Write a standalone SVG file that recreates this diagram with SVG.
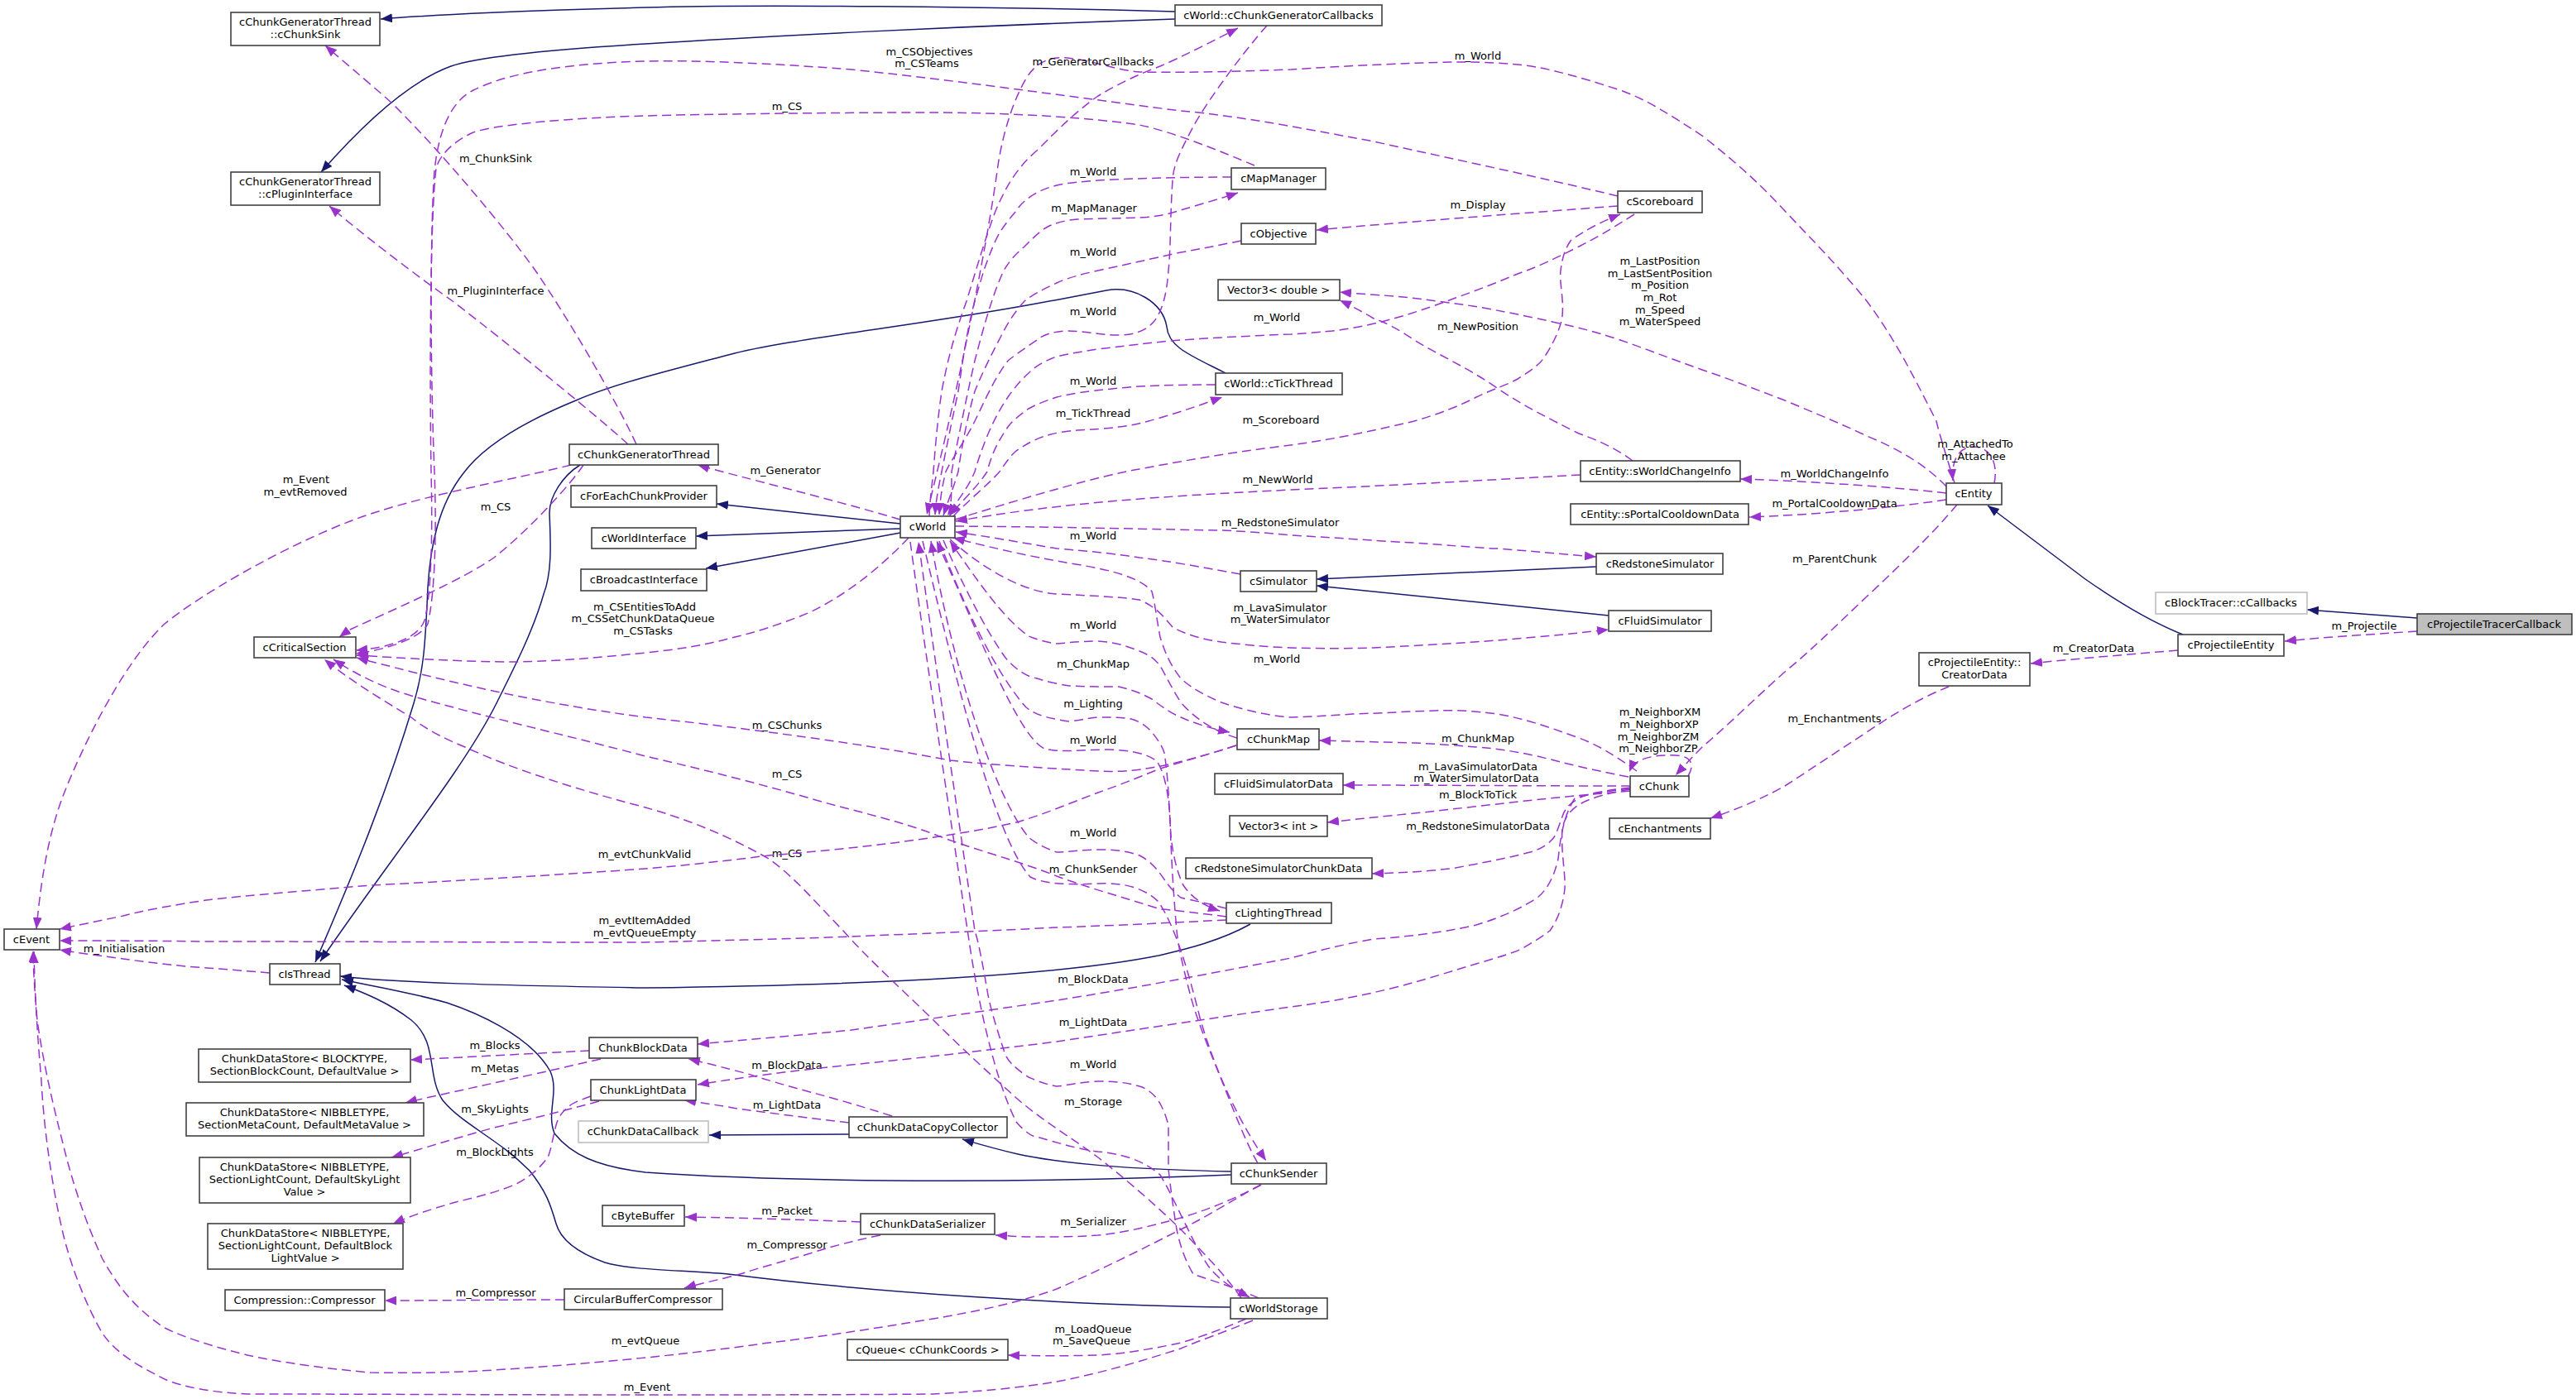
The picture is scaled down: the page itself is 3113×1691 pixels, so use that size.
<svg xmlns="http://www.w3.org/2000/svg" width="3113" height="1691" viewBox="0 0 3113 1691">
<style>
.bg{fill:#fff}
.n rect{fill:#fff;stroke:#404040;stroke-width:1.6}
.n.g rect{stroke:#bfbfbf}
.n.h rect{fill:#bfbfbf}
text{font-family:"DejaVu Sans","Liberation Sans",sans-serif;font-size:13px;fill:#000;text-anchor:middle}
.i{fill:none;stroke:#191970;stroke-width:1.5;marker-end:url(#mb)}
.u{fill:none;stroke:#9a32cd;stroke-width:1.5;stroke-dasharray:11,6;marker-end:url(#mp)}
</style>
<defs>
<marker id="mb" viewBox="0 0 14 11" refX="14" refY="5.5" markerWidth="14" markerHeight="11" markerUnits="userSpaceOnUse" orient="auto"><path d="M0,0L14,5.5L0,11z" fill="#191970" stroke="none"/></marker>
<marker id="mp" viewBox="0 0 14 11" refX="14" refY="5.5" markerWidth="14" markerHeight="11" markerUnits="userSpaceOnUse" orient="auto"><path d="M0,0L14,5.5L0,11z" fill="#9a32cd" stroke="none"/></marker>
</defs>
<rect class="bg" x="0" y="0" width="3113" height="1691"/>
<g id="connectors">
<!-- inheritance -->
<path class="i" d="M1420,14 C1200,8 900,5 780,9 C650,12 520,18 460,23"/>
<path class="i" d="M1420,23 C1150,32 900,45 780,53 C680,59 580,68 545,80 C490,100 430,160 388,208"/>
<path class="i" d="M1481,451 C1440,430 1412,420 1410,395 C1405,365 1370,345 1337,351 C1300,358 1280,362 1252,367 C1100,395 950,410 880,429 C800,450 740,465 696,484 C620,515 580,545 560,572 C530,610 520,660 517,710 C514,780 512,810 500,850 C470,950 430,1050 381,1163"/>
<path class="i" d="M701,562 C680,575 664,600 664,620 C665,650 668,690 657,718 C645,760 625,800 600,850 C560,930 470,1040 387,1162"/>
<path class="i" d="M1511,1117 C1470,1140 1420,1150 1400,1155 C1300,1175 1100,1190 780,1194 C600,1191 480,1188 411,1180"/>
<path class="i" d="M1488,1420 C1300,1428 1000,1432 780,1417 C720,1410 690,1395 670,1370 C660,1345 676,1320 665,1295 C640,1250 570,1222 540,1212 C490,1198 440,1190 413,1184"/>
<path class="i" d="M1487,1580 C1300,1578 1050,1562 880,1540 C820,1535 760,1535 731,1526 C700,1515 678,1500 672,1479 C665,1455 660,1440 640,1415 C600,1375 560,1360 535,1330 C515,1300 530,1260 497,1233 C470,1212 440,1200 416,1191"/>
<path class="i" d="M1088,633 L866,609"/>
<path class="i" d="M1088,639 L841,648"/>
<path class="i" d="M1088,644 L853,687"/>
<path class="i" d="M1929,685 L1591,700"/>
<path class="i" d="M1944,744 L1591,708"/>
<path class="i" d="M2638,767 C2600,752 2560,728 2520,700 C2480,670 2440,640 2402,611"/>
<path class="i" d="M2921,747 L2788,737"/>
<path class="i" d="M1026,1371 L857,1372"/>
<path class="i" d="M1488,1416 C1400,1414 1300,1410 1230,1395 C1200,1388 1180,1382 1163,1377"/>
<!-- usage -->
<path class="u" d="M769,537 C745,485 690,390 647,327 C610,275 530,180 473,124 C440,95 410,70 393,55"/>
<text x="599" y="196">m_ChunkSink</text>
<path class="u" d="M759,537 C730,510 620,420 547,364 C510,338 440,285 398,249"/>
<text x="599" y="356">m_PluginInterface</text>
<path class="u" d="M1088,628 C1000,602 900,578 843,562"/>
<text x="949" y="573">m_Generator</text>
<path class="u" d="M690,562 C620,580 500,600 423,630 C340,662 240,720 199,754 C150,800 100,900 75,965 C55,1020 48,1080 44,1123"/>
<text x="370" y="584">m_Event</text><text x="369" y="599">m_evtRemoved</text>
<path class="u" d="M705,562 C690,585 640,640 597,674 C560,700 480,735 423,761 C418,764 414,767 410,770"/>
<text x="599" y="617">m_CS</text>
<path class="u" d="M1955,237 C1860,214 1760,193 1660,171 C1600,160 1500,140 1427,134 C1300,118 1180,100 1029,84 C900,74 820,73 780,74 C700,76 620,85 572,109 C540,125 527,170 524,220 C520,300 520,450 525,570 C528,650 525,720 517,754 C510,770 470,785 430,790"/>
<text x="1123" y="67">m_CSObjectives</text><text x="1120" y="81">m_CSTeams</text>
<path class="u" d="M1516,200 C1480,185 1420,160 1377,151 C1300,140 1200,136 1128,136 C1000,136 850,138 780,140 C700,142 600,150 572,160 C545,172 530,190 527,204 C520,260 519,450 521,570 C523,650 521,720 513,750 C505,772 470,783 430,786"/>
<text x="951" y="133">m_CS</text>
<path class="u" d="M2362,584 C2355,560 2345,530 2340,509 C2310,450 2290,410 2256,364 C2220,320 2190,290 2157,255 C2120,215 2090,190 2057,164 C2020,140 1990,120 1958,109 C1900,90 1860,80 1834,78 C1800,75 1780,75 1759,75 C1700,76 1620,80 1560,84 C1480,87 1420,88 1377,87 C1350,85 1320,73 1290,70 C1265,68 1250,78 1240,95 C1225,120 1212,160 1206,200 C1195,280 1175,380 1160,450 C1145,520 1130,580 1120,622"/>
<text x="1786" y="72">m_World</text>
<path class="u" d="M1123,624 C1124,600 1126,590 1128,570 C1131,530 1134,500 1138,473 C1146,430 1155,400 1168,364 C1180,325 1190,290 1203,255 C1218,220 1232,200 1253,182 C1280,155 1300,135 1327,116 C1350,102 1375,90 1402,80 C1430,68 1465,50 1496,34"/>
<text x="1321" y="79">m_GeneratorCallbacks</text>
<path class="u" d="M1531,31 C1505,60 1460,120 1442,153 C1425,185 1418,200 1417,218 C1414,260 1415,300 1412,327 C1410,355 1405,375 1395,388 C1385,400 1370,405 1352,405 C1330,405 1310,400 1290,400 C1270,401 1260,405 1253,411 C1240,420 1228,428 1218,436 C1200,460 1190,485 1178,509 C1165,535 1150,555 1143,570 C1138,590 1136,605 1135,622"/>
<text x="1321" y="381">m_World</text>
<path class="u" d="M1488,214 C1450,214 1380,215 1327,218 C1300,220 1285,222 1277,224 C1265,227 1258,230 1253,233 C1240,240 1232,248 1228,255 C1215,270 1208,280 1203,291 C1190,320 1185,340 1178,364 C1168,400 1163,440 1158,473 C1150,510 1143,545 1138,570 C1134,590 1131,605 1130,622"/>
<text x="1321" y="212">m_World</text>
<path class="u" d="M1148,623 C1150,600 1150,585 1150,570 C1160,520 1168,480 1178,436 C1190,390 1200,355 1213,327 C1222,312 1230,305 1238,298 C1250,286 1258,278 1268,273 C1280,268 1290,266 1302,265 C1330,264 1355,264 1377,263 C1400,262 1415,258 1427,254 C1450,247 1475,240 1496,233"/>
<text x="1322" y="256">m_MapManager</text>
<path class="u" d="M1500,291 C1470,297 1450,301 1427,305 C1390,313 1360,320 1327,327 C1305,332 1290,336 1277,342 C1260,350 1248,356 1238,364 C1228,375 1220,387 1213,400 C1200,425 1188,448 1178,473 C1170,500 1162,540 1158,570 C1152,590 1146,605 1140,623"/>
<text x="1321" y="309">m_World</text>
<path class="u" d="M1469,465 C1420,465 1400,466 1377,467 C1340,470 1300,474 1277,480 C1262,485 1252,489 1243,494 C1232,502 1224,508 1218,516 C1205,535 1198,550 1193,570 C1180,590 1160,608 1148,623"/>
<text x="1321" y="465">m_World</text>
<path class="u" d="M1152,624 C1170,605 1195,585 1208,570 C1215,560 1220,552 1228,545 C1240,537 1250,531 1263,527 C1275,523 1290,521 1302,520 C1320,519 1338,518 1352,516 C1370,514 1385,510 1402,505 C1430,497 1455,488 1477,480"/>
<text x="1321" y="504">m_TickThread</text>
<path class="u" d="M1975,259 C1950,275 1930,287 1908,298 C1880,312 1860,322 1834,331 C1810,341 1785,351 1759,360 C1735,369 1710,378 1684,385 C1660,392 1635,397 1610,400 C1590,402 1575,403 1560,404 C1510,406 1470,408 1427,411 C1390,414 1360,418 1327,422 C1305,425 1290,428 1277,431 C1263,436 1252,442 1243,451 C1233,460 1225,470 1218,480 C1208,495 1200,510 1193,527 C1187,542 1182,556 1178,570 C1170,590 1155,608 1145,623"/>
<text x="1543" y="388">m_World</text>
<path class="u" d="M1154,628 C1250,598 1330,575 1377,567 C1440,555 1500,545 1560,538 C1620,530 1670,518 1709,509 C1740,500 1765,490 1784,480 C1805,470 1822,465 1834,458 C1850,448 1862,440 1868,429 C1880,410 1886,395 1888,382 C1890,360 1884,340 1886,327 C1888,310 1892,300 1898,291 C1912,280 1935,268 1958,259"/>
<text x="1548" y="512">m_Scoreboard</text>
<path class="u" d="M1955,249 C1850,257 1700,268 1591,278"/>
<text x="1786" y="252">m_Display</text>
<path class="u" d="M2352,588 C2330,565 2300,545 2256,527 C2220,510 2190,498 2157,484 C2120,470 2090,458 2057,447 C2020,434 1990,422 1958,411 C1920,398 1890,392 1858,385 C1820,377 1790,371 1759,367 C1730,363 1700,359 1684,358 C1660,356 1640,355 1619,353"/>
<text x="2006" y="320">m_LastPosition</text><text x="2006" y="335">m_LastSentPosition</text><text x="2006" y="349">m_Position</text><text x="2006" y="364">m_Rot</text><text x="2006" y="379">m_Speed</text><text x="2006" y="393">m_WaterSpeed</text>
<path class="u" d="M1973,557 C1950,540 1930,532 1908,524 C1870,505 1840,490 1809,469 C1775,445 1740,430 1709,411 C1690,398 1675,390 1660,385 C1645,376 1630,368 1619,363"/>
<text x="1786" y="399">m_NewPosition</text>
<path class="u" d="M2352,596 C2300,590 2200,582 2103,579"/>
<text x="2217" y="577">m_WorldChangeInfo</text>
<path class="u" d="M2352,604 C2300,612 2200,622 2114,625"/>
<text x="2217" y="613">m_PortalCooldownData</text>
<path class="u" d="M2410,584 C2415,560 2405,540 2385,540 C2365,540 2358,560 2360,581"/>
<text x="2387" y="541">m_AttachedTo</text><text x="2385" y="556">m_Attachee</text>
<path class="u" d="M2365,610 C2340,640 2300,680 2256,721 C2220,755 2190,785 2157,812 C2120,845 2090,875 2057,903 C2045,915 2033,928 2025,937"/>
<text x="2217" y="680">m_ParentChunk</text>
<path class="u" d="M2632,786 C2560,792 2500,797 2454,802"/>
<text x="2530" y="788">m_CreatorData</text>
<path class="u" d="M2921,763 C2860,767 2800,771 2761,775"/>
<text x="2857" y="761">m_Projectile</text>
<path class="u" d="M2355,830 C2330,840 2300,855 2256,885 C2210,915 2180,935 2157,950 C2130,965 2100,978 2067,989"/>
<text x="2217" y="873">m_Enchantments</text>
<path class="u" d="M1910,574 C1800,580 1700,586 1560,592 C1400,600 1280,608 1155,630"/>
<text x="1544" y="584">m_NewWorld</text>
<path class="u" d="M1154,636 C1300,637 1400,640 1476,641 C1520,643 1540,645 1560,647 C1620,650 1680,655 1709,656 C1760,660 1800,663 1809,663 C1850,666 1890,670 1929,673"/>
<text x="1547" y="636">m_RedstoneSimulator</text>
<path class="u" d="M1499,694 C1450,685 1410,678 1377,674 C1340,668 1300,665 1277,663 C1230,655 1190,648 1155,643"/>
<text x="1321" y="652">m_World</text>
<path class="u" d="M1148,652 C1180,680 1230,715 1277,718 C1320,720 1360,722 1377,725 C1400,735 1408,748 1417,758 C1435,768 1455,773 1476,776 C1500,779 1530,782 1560,783 C1600,784 1630,784 1660,783 C1720,780 1770,777 1809,774 C1860,770 1900,766 1944,761"/>
<text x="1547" y="739">m_LavaSimulator</text><text x="1547" y="753">m_WaterSimulator</text>
<path class="u" d="M1978,932 C1950,912 1930,900 1908,892 C1870,878 1840,868 1809,863 C1780,859 1755,858 1734,859 C1700,860 1670,862 1635,863 C1610,865 1585,866 1560,867 C1530,865 1500,857 1476,849 C1455,840 1440,832 1427,820 C1415,805 1408,790 1402,770 C1398,750 1396,730 1392,715 C1380,700 1350,690 1300,682 C1240,672 1190,660 1152,650"/>
<text x="1543" y="801">m_World</text>
<path class="u" d="M1495,892 C1470,885 1445,870 1427,849 C1415,830 1408,815 1402,805 C1395,795 1385,790 1377,787 C1360,780 1345,776 1327,775 C1305,775 1290,777 1277,778 C1260,776 1252,772 1243,769 C1210,745 1180,700 1148,654"/>
<text x="1321" y="760">m_World</text>
<path class="u" d="M1140,653 C1160,700 1190,760 1215,795 C1230,812 1242,818 1253,820 C1265,824 1280,827 1292,829 C1315,830 1335,830 1352,830 C1370,834 1383,840 1392,845 C1405,855 1415,862 1427,867 C1445,875 1465,881 1486,885"/>
<text x="1321" y="807">m_ChunkMap</text>
<path class="u" d="M1135,654 C1160,720 1200,810 1240,855 C1250,863 1260,867 1292,872 C1310,870 1320,867 1327,867 C1345,867 1355,867 1367,869 C1378,872 1386,878 1392,885 C1400,895 1405,903 1407,910 C1412,940 1413,980 1415,1010 C1418,1040 1425,1060 1430,1070 C1440,1085 1455,1095 1474,1101"/>
<text x="1321" y="855">m_Lighting</text>
<path class="u" d="M1520,1406 C1505,1380 1490,1340 1476,1305 C1460,1265 1445,1230 1437,1197 C1430,1170 1424,1145 1422,1125 C1418,1080 1415,1030 1414,990 C1412,960 1408,935 1398,920 C1385,910 1365,907 1340,906 C1310,906 1285,910 1262,905 C1230,890 1180,760 1132,654"/>
<text x="1321" y="899">m_World</text>
<path class="u" d="M1482,1098 C1460,1092 1440,1088 1427,1085 C1418,1078 1412,1070 1407,1063 C1395,1045 1385,1038 1377,1034 C1360,1028 1345,1027 1327,1027 C1305,1027 1290,1030 1277,1030 C1262,1025 1250,1018 1243,1012 C1200,960 1150,800 1125,654"/>
<text x="1321" y="1011">m_World</text>
<path class="u" d="M1115,654 C1150,800 1200,1010 1245,1060 C1260,1068 1290,1070 1327,1068 C1360,1066 1385,1075 1400,1090 C1420,1120 1435,1170 1450,1230 C1470,1300 1500,1360 1530,1403"/>
<text x="1321" y="1055">m_ChunkSender</text>
<path class="u" d="M1521,1569 C1490,1555 1455,1545 1442,1540 C1430,1520 1425,1500 1422,1486 C1416,1450 1413,1420 1412,1414 C1412,1390 1412,1370 1412,1360 C1408,1345 1405,1340 1402,1334 C1395,1322 1385,1315 1377,1313 C1360,1308 1345,1307 1327,1307 C1305,1308 1290,1312 1277,1313 C1260,1310 1250,1305 1243,1302 C1225,1290 1215,1280 1213,1269 C1200,1230 1195,1210 1193,1197 C1185,1150 1180,1130 1178,1125 C1160,1000 1130,800 1110,655"/>
<text x="1321" y="1291">m_World</text>
<path class="u" d="M1100,655 C1120,800 1150,1000 1170,1130 C1180,1200 1200,1300 1228,1356 C1240,1370 1250,1375 1253,1374 C1290,1385 1310,1390 1327,1392 C1370,1396 1390,1410 1402,1420 C1420,1450 1440,1500 1460,1530 C1475,1550 1495,1560 1510,1568"/>
<text x="1321" y="1336">m_Storage</text>
<path class="u" d="M1500,1569 C1480,1540 1450,1510 1427,1486 C1395,1455 1360,1425 1327,1399 C1295,1375 1260,1355 1228,1327 C1195,1297 1160,1265 1128,1233 C1090,1196 1050,1160 1019,1125 C985,1090 960,1060 929,1038 C880,1010 830,990 780,976 C700,955 620,930 562,903 C530,890 510,878 497,867 C460,845 420,820 392,797"/>
<text x="951" y="1036">m_CS</text>
<path class="u" d="M1482,1108 C1450,1104 1420,1100 1402,1099 C1360,1085 1320,1075 1277,1059 C1230,1040 1170,1025 1128,1008 C1080,990 1030,980 979,965 C920,948 850,930 780,914 C690,890 580,865 497,841 C460,830 430,815 403,797"/>
<text x="951" y="940">m_CS</text>
<path class="u" d="M1494,901 C1420,925 1370,935 1327,932 C1260,928 1200,925 1148,919 C1050,900 900,880 780,867 C650,850 550,825 497,812 C470,805 450,800 431,795"/>
<text x="951" y="881">m_CSChunks</text>
<path class="u" d="M1098,650 C1060,690 1020,720 979,740 C940,756 910,765 880,772 C850,780 820,785 780,789 C720,795 680,799 622,800 C560,800 480,795 431,792"/>
<text x="779" y="738">m_CSEntitiesToAdd</text><text x="777" y="752">m_CSSetChunkDataQueue</text><text x="777" y="767">m_CSTasks</text>
<path class="u" d="M1494,901 C1460,912 1430,920 1402,929 C1375,940 1350,950 1327,958 C1295,970 1260,985 1228,994 C1180,1005 1130,1012 1079,1019 C1030,1025 980,1030 929,1034 C880,1040 830,1046 780,1050 C680,1057 550,1065 448,1070 C380,1076 300,1082 249,1088 C210,1094 175,1100 149,1107 C120,1113 95,1118 72,1123"/>
<text x="779" y="1037">m_evtChunkValid</text>
<path class="u" d="M1482,1112 C1400,1116 1340,1119 1277,1121 C1200,1125 1100,1129 1029,1132 C950,1135 860,1137 780,1139 C600,1139 400,1138 249,1138 C180,1137 120,1137 72,1137"/>
<text x="779" y="1117">m_evtItemAdded</text><text x="779" y="1132">m_evtQueueEmpty</text>
<path class="u" d="M1524,1432 C1490,1450 1460,1470 1427,1486 C1380,1510 1330,1535 1277,1558 C1230,1575 1180,1585 1128,1594 C1060,1605 1000,1615 929,1623 C880,1630 830,1636 780,1641 C720,1647 660,1652 597,1656 C550,1659 500,1660 448,1659 C400,1655 340,1647 299,1638 C260,1628 225,1618 199,1605 C160,1580 140,1550 124,1522 C100,1470 85,1420 75,1378 C60,1320 50,1270 45,1233 C42,1200 40,1170 40,1149"/>
<text x="780" y="1625">m_evtQueue</text>
<path class="u" d="M1514,1596 C1480,1610 1450,1620 1427,1630 C1380,1645 1330,1660 1277,1670 C1230,1678 1180,1682 1128,1685 C1000,1686 900,1686 780,1686 C600,1686 450,1685 299,1685 C260,1683 225,1678 199,1667 C165,1650 140,1635 124,1612 C105,1580 85,1530 75,1486 C60,1420 52,1350 50,1306 C45,1250 42,1200 41,1150"/>
<text x="782" y="1681">m_Event</text>
<path class="u" d="M326,1176 C280,1172 250,1170 224,1168 C195,1165 170,1162 149,1159 C120,1155 95,1152 72,1148"/>
<text x="150" y="1151">m_Initialisation</text>
<path class="u" d="M712,1270 C650,1273 560,1278 496,1281"/>
<text x="598" y="1268">m_Blocks</text>
<path class="u" d="M726,1280 C690,1288 670,1293 647,1298 C610,1306 580,1313 547,1320 C525,1325 505,1329 490,1333"/>
<text x="598" y="1296">m_Metas</text>
<path class="u" d="M724,1331 C680,1343 640,1353 597,1363 C550,1376 505,1390 473,1399"/>
<text x="598" y="1345">m_SkyLights</text>
<path class="u" d="M714,1325 C700,1330 690,1334 687,1338 C678,1345 674,1352 672,1360 C668,1375 666,1390 662,1399 C650,1415 636,1425 622,1432 C595,1443 570,1448 547,1454 C520,1462 495,1470 475,1479"/>
<text x="598" y="1397">m_BlockLights</text>
<path class="u" d="M1078,1349 C1040,1337 1010,1328 979,1320 C950,1312 925,1305 904,1298 C880,1292 855,1285 832,1280"/>
<text x="951" y="1292">m_BlockData</text>
<path class="u" d="M1026,1357 C990,1353 960,1349 929,1345 C905,1342 890,1340 880,1338 C860,1335 845,1332 827,1330"/>
<text x="951" y="1340">m_LightData</text>
<path class="u" d="M1040,1477 C960,1474 900,1472 828,1471"/>
<text x="951" y="1468">m_Packet</text>
<path class="u" d="M1064,1493 C1030,1500 1000,1508 979,1515 C950,1524 925,1530 904,1537 C880,1545 850,1550 827,1557"/>
<text x="951" y="1509">m_Compressor</text>
<path class="u" d="M682,1571 C600,1571 530,1572 465,1572"/>
<text x="599" y="1567">m_Compressor</text>
<path class="u" d="M1524,1432 C1490,1450 1460,1462 1427,1472 C1390,1482 1360,1490 1327,1493 C1300,1495 1280,1495 1253,1495 C1235,1495 1220,1494 1203,1493"/>
<text x="1321" y="1481">m_Serializer</text>
<path class="u" d="M1506,1594 C1480,1605 1455,1615 1427,1623 C1395,1630 1360,1636 1327,1638 C1290,1639 1250,1639 1218,1638"/>
<text x="1321" y="1611">m_LoadQueue</text><text x="1319" y="1625">m_SaveQueue</text>
<path class="u" d="M1968,939 C1920,930 1890,922 1858,914 C1830,908 1810,905 1784,903 C1760,901 1735,899 1709,898 C1670,897 1630,896 1594,895"/>
<text x="1786" y="897">m_ChunkMap</text>
<path class="u" d="M1970,950 C1850,950 1720,949 1623,949"/>
<text x="1786" y="931">m_LavaSimulatorData</text><text x="1784" y="945">m_WaterSimulatorData</text>
<path class="u" d="M1970,956 C1900,962 1850,967 1809,972 C1770,976 1740,980 1709,983 C1670,987 1640,990 1604,994"/>
<text x="1786" y="965">m_BlockToTick</text>
<path class="u" d="M1970,952 C1935,956 1915,960 1908,965 C1895,972 1890,980 1888,987 C1884,998 1882,1005 1878,1012 C1870,1022 1860,1027 1849,1030 C1820,1038 1790,1043 1759,1049 C1720,1054 1690,1055 1658,1056"/>
<text x="1786" y="1003">m_RedstoneSimulatorData</text>
<path class="u" d="M1970,953 C1930,958 1910,962 1903,965 C1890,985 1886,1010 1883,1038 C1878,1060 1870,1075 1858,1085 C1835,1100 1810,1110 1784,1118 C1740,1128 1700,1132 1660,1135 C1620,1142 1590,1150 1560,1158 C1470,1175 1370,1195 1277,1209 C1190,1222 1100,1235 1029,1245 C960,1252 900,1257 843,1262"/>
<text x="1321" y="1188">m_BlockData</text>
<path class="u" d="M1970,954 C1905,965 1893,980 1888,1001 C1886,1030 1892,1055 1891,1074 C1888,1100 1880,1115 1873,1125 C1860,1135 1850,1140 1839,1147 C1820,1155 1800,1160 1784,1165 C1750,1175 1720,1185 1684,1194 C1640,1205 1600,1212 1560,1217 C1470,1230 1370,1245 1277,1259 C1190,1270 1100,1280 1029,1287 C950,1295 900,1302 843,1311"/>
<text x="1321" y="1240">m_LightData</text>
<path class="u" d="M2040,938 C2048,925 2045,914 2025,913 C2005,912 1990,915 1980,920 C1974,924 1971,928 1969,933"/>
<text x="2006" y="865">m_NeighborXM</text><text x="2005" y="880">m_NeighborXP</text><text x="2004" y="895">m_NeighborZM</text><text x="2004" y="909">m_NeighborZP</text>
</g>
<g id="nodes">
<g id="cChunkSink" class="n"><rect x="279" y="15" width="180" height="40"/><text x="369" y="31">cChunkGeneratorThread</text><text x="369" y="46">::cChunkSink</text></g>
<g id="cPluginInterface" class="n"><rect x="279" y="208" width="180" height="40"/><text x="369" y="224">cChunkGeneratorThread</text><text x="369" y="239">::cPluginInterface</text></g>
<g id="cChunkGeneratorCallbacks" class="n"><rect x="1420" y="6" width="250" height="25"/><text x="1545" y="23">cWorld::cChunkGeneratorCallbacks</text></g>
<g id="cMapManager" class="n"><rect x="1488" y="203" width="114" height="26"/><text x="1545" y="220">cMapManager</text></g>
<g id="cObjective" class="n"><rect x="1500" y="270" width="90" height="25"/><text x="1545" y="287">cObjective</text></g>
<g id="Vector3d" class="n"><rect x="1472" y="338" width="147" height="25"/><text x="1545" y="355">Vector3&lt; double &gt;</text></g>
<g id="cTickThread" class="n"><rect x="1469" y="451" width="153" height="26"/><text x="1545" y="468">cWorld::cTickThread</text></g>
<g id="cScoreboard" class="n"><rect x="1955" y="231" width="102" height="26"/><text x="2006" y="248">cScoreboard</text></g>
<g id="sWorldChangeInfo" class="n"><rect x="1910" y="557" width="193" height="25"/><text x="2006" y="574">cEntity::sWorldChangeInfo</text></g>
<g id="sPortalCooldownData" class="n"><rect x="1898" y="609" width="215" height="25"/><text x="2006" y="626">cEntity::sPortalCooldownData</text></g>
<g id="cEntity" class="n"><rect x="2352" y="584" width="67" height="26"/><text x="2385" y="601">cEntity</text></g>
<g id="cRedstoneSimulator" class="n"><rect x="1929" y="669" width="153" height="25"/><text x="2006" y="686">cRedstoneSimulator</text></g>
<g id="cFluidSimulator" class="n"><rect x="1944" y="738" width="124" height="25"/><text x="2006" y="755">cFluidSimulator</text></g>
<g id="cSimulator" class="n"><rect x="1499" y="690" width="92" height="25"/><text x="1545" y="707">cSimulator</text></g>
<g id="cWorld" class="n"><rect x="1088" y="624" width="66" height="26"/><text x="1121" y="641">cWorld</text></g>
<g id="cChunkGeneratorThread" class="n"><rect x="688" y="537" width="180" height="25"/><text x="778" y="554">cChunkGeneratorThread</text></g>
<g id="cForEachChunkProvider" class="n"><rect x="690" y="587" width="176" height="26"/><text x="778" y="604">cForEachChunkProvider</text></g>
<g id="cWorldInterface" class="n"><rect x="715" y="638" width="126" height="25"/><text x="778" y="655">cWorldInterface</text></g>
<g id="cBroadcastInterface" class="n"><rect x="702" y="688" width="152" height="26"/><text x="778" y="705">cBroadcastInterface</text></g>
<g id="cCriticalSection" class="n"><rect x="307" y="770" width="123" height="25"/><text x="368" y="787">cCriticalSection</text></g>
<g id="cEvent" class="n"><rect x="5" y="1123" width="67" height="25"/><text x="38" y="1140">cEvent</text></g>
<g id="cIsThread" class="n"><rect x="326" y="1165" width="85" height="25"/><text x="368" y="1182">cIsThread</text></g>
<g id="cChunkMap" class="n"><rect x="1495" y="881" width="99" height="25"/><text x="1545" y="898">cChunkMap</text></g>
<g id="cFluidSimulatorData" class="n"><rect x="1468" y="935" width="155" height="25"/><text x="1545" y="952">cFluidSimulatorData</text></g>
<g id="Vector3i" class="n"><rect x="1486" y="986" width="118" height="25"/><text x="1545" y="1003">Vector3&lt; int &gt;</text></g>
<g id="cRedstoneSimulatorChunkData" class="n"><rect x="1433" y="1037" width="225" height="25"/><text x="1545" y="1054">cRedstoneSimulatorChunkData</text></g>
<g id="cLightingThread" class="n"><rect x="1482" y="1091" width="127" height="25"/><text x="1545" y="1108">cLightingThread</text></g>
<g id="cChunk" class="n"><rect x="1970" y="938" width="71" height="25"/><text x="2005" y="955">cChunk</text></g>
<g id="cEnchantments" class="n"><rect x="1945" y="989" width="122" height="25"/><text x="2006" y="1006">cEnchantments</text></g>
<g id="CreatorData" class="n"><rect x="2319" y="789" width="134" height="40"/><text x="2386" y="805">cProjectileEntity::</text><text x="2386" y="820">CreatorData</text></g>
<g id="cCallbacks" class="n g"><rect x="2605" y="716" width="183" height="26"/><text x="2696" y="733">cBlockTracer::cCallbacks</text></g>
<g id="cProjectileTracerCallback" class="n h"><rect x="2921" y="742" width="187" height="25"/><text x="3014" y="759">cProjectileTracerCallback</text></g>
<g id="cProjectileEntity" class="n"><rect x="2632" y="767" width="128" height="26"/><text x="2696" y="784">cProjectileEntity</text></g>
<g id="CDS_Blocks" class="n"><rect x="240" y="1268" width="256" height="40"/><text x="368" y="1284">ChunkDataStore&lt; BLOCKTYPE,</text><text x="368" y="1299">SectionBlockCount, DefaultValue &gt;</text></g>
<g id="CDS_Metas" class="n"><rect x="225" y="1333" width="287" height="40"/><text x="368" y="1349">ChunkDataStore&lt; NIBBLETYPE,</text><text x="368" y="1364">SectionMetaCount, DefaultMetaValue &gt;</text></g>
<g id="CDS_Sky" class="n"><rect x="241" y="1399" width="255" height="55"/><text x="368" y="1415">ChunkDataStore&lt; NIBBLETYPE,</text><text x="368" y="1430">SectionLightCount, DefaultSkyLight</text><text x="368" y="1445">Value &gt;</text></g>
<g id="CDS_BlockLight" class="n"><rect x="251" y="1479" width="236" height="55"/><text x="369" y="1495">ChunkDataStore&lt; NIBBLETYPE,</text><text x="369" y="1510">SectionLightCount, DefaultBlock</text><text x="369" y="1525">LightValue &gt;</text></g>
<g id="Compressor" class="n"><rect x="272" y="1559" width="193" height="25"/><text x="368" y="1576">Compression::Compressor</text></g>
<g id="ChunkBlockData" class="n"><rect x="712" y="1254" width="131" height="25"/><text x="777" y="1271">ChunkBlockData</text></g>
<g id="ChunkLightData" class="n"><rect x="714" y="1305" width="127" height="25"/><text x="777" y="1322">ChunkLightData</text></g>
<g id="cChunkDataCallback" class="n g"><rect x="699" y="1355" width="157" height="26"/><text x="777" y="1372">cChunkDataCallback</text></g>
<g id="cByteBuffer" class="n"><rect x="728" y="1457" width="99" height="25"/><text x="777" y="1474">cByteBuffer</text></g>
<g id="CircularBufferCompressor" class="n"><rect x="682" y="1558" width="191" height="25"/><text x="777" y="1575">CircularBufferCompressor</text></g>
<g id="cChunkDataCopyCollector" class="n"><rect x="1026" y="1350" width="191" height="25"/><text x="1121" y="1367">cChunkDataCopyCollector</text></g>
<g id="cChunkDataSerializer" class="n"><rect x="1040" y="1467" width="162" height="25"/><text x="1121" y="1484">cChunkDataSerializer</text></g>
<g id="cQueue" class="n"><rect x="1024" y="1619" width="194" height="25"/><text x="1121" y="1636">cQueue&lt; cChunkCoords &gt;</text></g>
<g id="cChunkSender" class="n"><rect x="1488" y="1406" width="115" height="25"/><text x="1545" y="1423">cChunkSender</text></g>
<g id="cWorldStorage" class="n"><rect x="1487" y="1569" width="117" height="25"/><text x="1545" y="1586">cWorldStorage</text></g>
</g>
</svg>
